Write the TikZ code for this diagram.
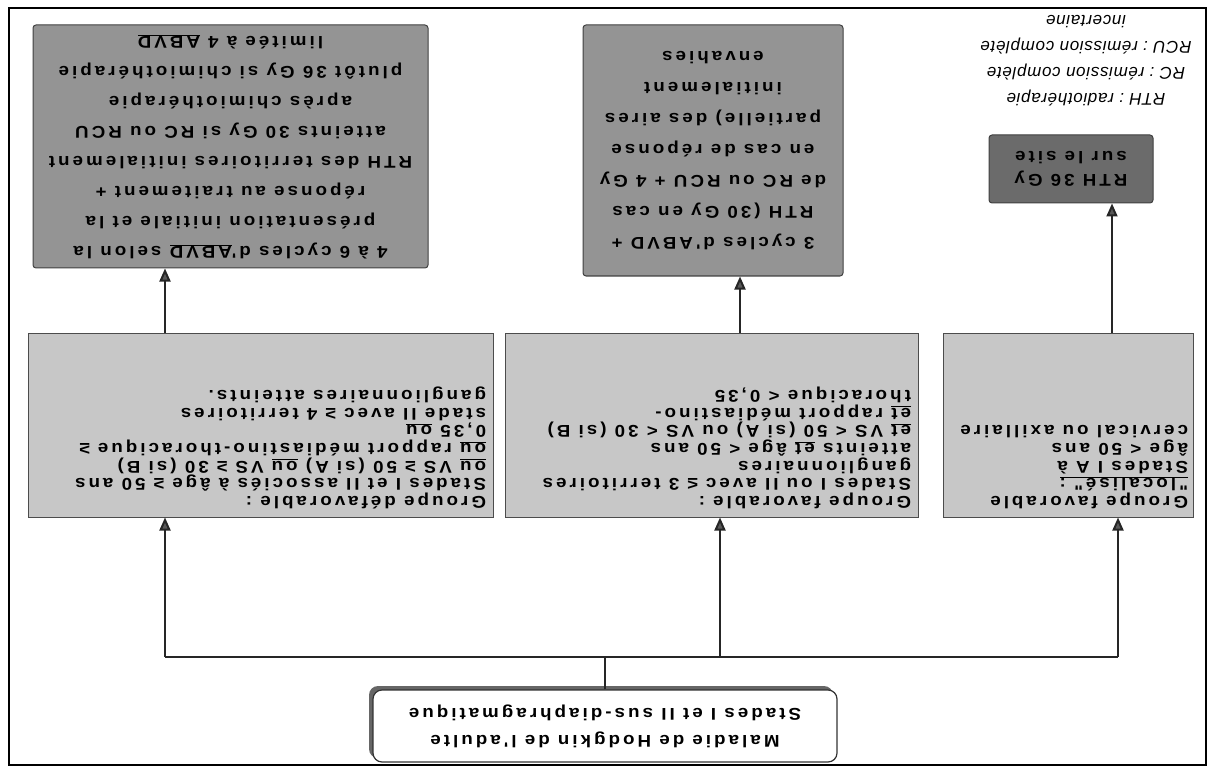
\documentclass[tikz,border=0pt]{standalone}
\usepackage{fontspec}
\setmainfont{Liberation Sans}
\newfontfamily\bfnt{Liberation Sans Bold}[LetterSpace=18,FakeStretch=1.1]
\newfontfamily\itfnt{Liberation Sans Italic}[LetterSpace=4]
\usetikzlibrary{arrows.meta,calc}
\newcommand{\mpbox}[3]{\begin{minipage}[c][#2][t]{#1}\raggedright #3\end{minipage}}
\begin{document}
\begin{tikzpicture}[x=1pt,y=-1pt,
  txt/.style={rotate=180, font=\bfnt\fontsize{17}{17.7}\selectfont},
  critbox/.style={txt, draw=black!70, fill=black!22, line width=1pt, inner xsep=7pt, inner ysep=8pt},
  treatbox/.style={rotate=180, draw=black!75, line width=1pt, rounded corners=3pt, align=center, inner sep=0pt},
  conn/.style={line width=2pt, draw=black!85},
  arr/.style={conn, -{Triangle[length=13pt,width=11pt,fill=black!65]}},
]
\useasboundingbox (0,0) rectangle (1212,767);
\draw[line width=1.5pt] (9,8) rectangle (1206,765);

% top (original) box
\node[rotate=180, fill=black!60, rounded corners=9pt, minimum width=464pt, minimum height=72pt] (malsh) at (601,722) {};
\node[rotate=180, draw=black!80, fill=white, line width=1.2pt, rounded corners=9pt,
      minimum width=464pt, minimum height=72pt, align=center,
      font=\bfnt\fontsize{17}{27}\selectfont] (mal) at (605,726)
  {Maladie de Hodgkin de l'adulte\\Stades I et II sus-diaphragmatique};

% criteria boxes
\node[critbox] (m1) at (260.5,425) {\mpbox{451pt}{168pt}{Groupe défavorable :\\
Stades I et II associés à âge ≥ 50 ans\\
\underline{ou} VS ≥ 50 (si A) \underline{ou} VS ≥ 30 (si B)\\
\underline{ou} rapport médiastino-thoracique ≥\\
0,35 \underline{ou}\\
stade II avec ≥ 4 territoires\\
ganglionnaires atteints.}};

\node[critbox] (m2) at (711.5,425) {\mpbox{399pt}{168pt}{Groupe favorable :\\
Stades I ou II avec ≤ 3 territoires\\
ganglionnaires\\
atteints \underline{et} âge < 50 ans\\
\underline{et} VS < 50 (si A) ou VS < 30 (si B)\\
\underline{et} rapport médiastino-\\
thoracique < 0,35}};

\node[critbox, inner xsep=5pt] (m3) at (1068,425) {\mpbox{240pt}{168pt}{Groupe favorable\\
\underline{"localisé" :}\\
Stades I A à\\
âge < 50 ans\\
cervical ou axillaire}};

% treatment boxes
\node[treatbox, fill=black!42, minimum width=395pt, minimum height=243pt,
      font=\bfnt\fontsize{17}{30}\selectfont] (t1) at (230.5,146.5)
  {4 à 6 cycles d'\underline{ABVD} selon la\\
   présentation initiale et la\\
   réponse au traitement +\\
   RTH des territoires initialement\\
   atteints 30 Gy si RC ou RCU\\
   après chimiothérapie\\
   plutôt 36 Gy si chimiothérapie\\
   limitée à 4 \underline{ABVD}};

\node[treatbox, fill=black!42, minimum width=260pt, minimum height=251pt,
      font=\bfnt\fontsize{17}{31}\selectfont] (t2) at (713,150.5)
  {3 cycles d'ABVD +\\
   RTH (30 Gy en cas\\
   de RC ou RCU + 4 Gy\\
   en cas de réponse\\
   partielle) des aires\\
   initialement\\
   envahies};

\node[treatbox, fill=black!58, minimum width=164pt, minimum height=68pt,
      font=\bfnt\fontsize{17}{23}\selectfont] (t3) at (1071,169)
  {RTH 36 Gy\\sur le site};

% legend
\node[rotate=180, align=center, font=\itfnt\fontsize{17}{26}\selectfont] (leg) at (1086,61)
  {RTH : radiothérapie\\
   RC : rémission complète\\
   RCU : rémission complète\\
   incertaine};

% connectors
\coordinate (jc) at (605,657);
\coordinate (jl) at (165,657);
\coordinate (jm) at (720,657);
\coordinate (jr) at (1118,657);
\coordinate (a1) at (165,0);
\coordinate (a2) at (740,0);
\coordinate (a3) at (1112,0);

\draw[conn] (jc |- mal.south) -- (jc);
\draw[conn] (jl) -- (jr);
\draw[arr] (jl) -- (jl |- m1.north);
\draw[arr] (jm) -- (jm |- m2.north);
\draw[arr] (jr) -- (jr |- m3.north);

\draw[arr] (a1 |- m1.south) -- (a1 |- t1.north);
\draw[arr] (a2 |- m2.south) -- (a2 |- t2.north);
\draw[arr] (a3 |- m3.south) -- (a3 |- t3.north);
\end{tikzpicture}
\end{document}
